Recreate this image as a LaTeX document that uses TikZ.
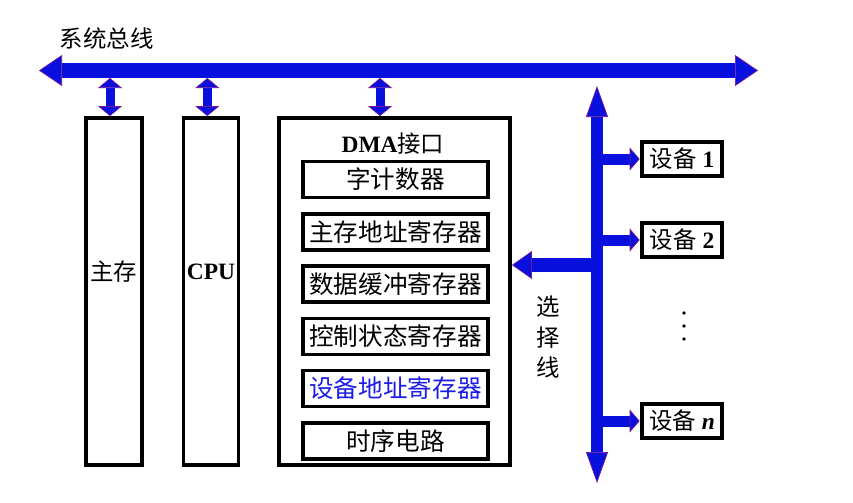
\documentclass[tikz,border=0pt]{standalone}
\usepackage{fontspec}
\setmainfont{Liberation Serif}
\newfontfamily\cjk{Noto Sans CJK SC}
\usetikzlibrary{arrows.meta,positioning}
\definecolor{bbus}{RGB}{8,16,222}
\definecolor{bedge}{RGB}{120,20,150}
\definecolor{btext}{RGB}{28,28,232}
\tikzset{
  bigtip/.tip  ={Triangle[length=0.69cm, width=0.93cm, line width=0.6pt, color=bedge, fill=bbus]},
  linktip/.tip ={Triangle[length=0.3cm, width=0.72cm, line width=0.6pt, color=bedge, fill=bbus]},
  seltip/.tip  ={Triangle[length=0.93cm, width=0.66cm, line width=0.6pt, color=bedge, fill=bbus]},
  feedtip/.tip ={Triangle[length=0.6cm, width=0.84cm, line width=0.6pt, color=bedge, fill=bbus]},
  devtip/.tip  ={Triangle[length=0.3cm, width=0.69cm, line width=0.6pt, color=bedge, fill=bbus]},
  unit/.style  ={rectangle, draw=black, line width=3.3pt, fill=white, inner sep=0pt, align=center},
  reg/.style   ={unit, minimum width=5.55cm, minimum height=1.08cm, font=\cjk\fontsize{21}{25}\selectfont},
  dev/.style   ={unit, line width=4pt, minimum width=2.4cm, minimum height=1.02cm, font=\fontsize{20}{24}\selectfont},
  lbl/.style   ={inner sep=0pt, align=center, font=\cjk\fontsize{20}{24}\selectfont},
  sysbus/.style={draw=bbus, line width=0.45cm, bigtip-bigtip},
  link/.style  ={draw=bbus, line width=0.27cm, linktip-linktip},
  selbus/.style={draw=bbus, line width=0.36cm, seltip-seltip},
  feed/.style  ={draw=bbus, line width=0.42cm, -feedtip},
  devarr/.style={draw=bbus, line width=0.33cm, -devtip}
}
\begin{document}
\begin{tikzpicture}
\useasboundingbox (0,0) rectangle (25.59,-15.09);
% system bus
\coordinate (busL) at (1.17,-2.115);
\coordinate (busR) at (22.74,-2.115);
\coordinate (busfoot) at (0,-2.34);
\node[lbl] (title) at (3.2,-1.17) {系统总线};
% main units
\node[unit, minimum width=1.68cm, minimum height=10.41cm] (mem) at (3.42,-8.745) {};
\node[unit, minimum width=1.65cm, minimum height=10.41cm] (cpu) at (6.33,-8.745) {};
\node[unit, minimum width=6.93cm, minimum height=10.41cm] (dma) at (11.835,-8.745) {};
\node[lbl] (memname) at (3.42,-8.16) {主存};
\node[inner sep=0pt, font=\fontsize{20}{24}\selectfont\bfseries] (cpuname) at (6.33,-8.16) {CPU};
\node[inner sep=0pt, font=\fontsize{20}{24}\selectfont] (dmaname) at (11.79,-4.32)
  {\textbf{DMA}{\cjk 接口}};
% registers inside the DMA interface
\node[reg] (wc)   at (11.865,-5.385)  {字计数器};
\node[reg] (mar)  at (11.865,-6.96)   {主存地址寄存器};
\node[reg] (dbr)  at (11.865,-8.52)   {数据缓冲寄存器};
\node[reg] (csr)  at (11.865,-10.095) {控制状态寄存器};
\node[reg, text=btext] (dar) at (11.865,-11.655) {设备地址寄存器};
\node[reg] (tim)  at (11.865,-13.23)  {时序电路};
% devices
\node[dev] (d1) at (20.46,-4.77)  {{\cjk 设备} \textbf{1}};
\node[dev] (d2) at (20.46,-7.2)   {{\cjk 设备} \textbf{2}};
\node[dev] (dn) at (20.46,-12.63) {{\cjk 设备} \textbf{\textit{n}}};
\foreach \yy in {-9.39,-9.78,-10.17}
  \fill (20.52,\yy) circle (0.055cm);
\node[lbl, font=\cjk\fontsize{20}{26}\selectfont] (selname) at (16.44,-10.125) {选\\择\\线};
% buses and connections
\draw[sysbus] (busL) -- (busR);
\coordinate (memtop) at ([xshift=-0.12cm]mem.north);
\coordinate (cputop) at ([xshift=-0.11cm]cpu.north);
\coordinate (dmatop) at ([xshift=-0.435cm]dma.north);
\draw[link] (memtop |- busfoot) -- (memtop);
\draw[link] (cputop |- busfoot) -- (cputop);
\draw[link] (dmatop |- busfoot) -- (dmatop);
\coordinate (selT) at (17.91,-2.58);
\coordinate (selB) at (17.91,-14.49);
\coordinate (dmain) at ([yshift=0.795cm]dma.east);
\draw[feed] (selT |- dmain) -- (dmain);
\draw[devarr] (selT |- d1.west) -- (d1.west);
\draw[devarr] (selT |- d2.west) -- (d2.west);
\draw[devarr] (selT |- dn.west) -- (dn.west);
\draw[selbus] (selT) -- (selB);
\end{tikzpicture}
\end{document}
